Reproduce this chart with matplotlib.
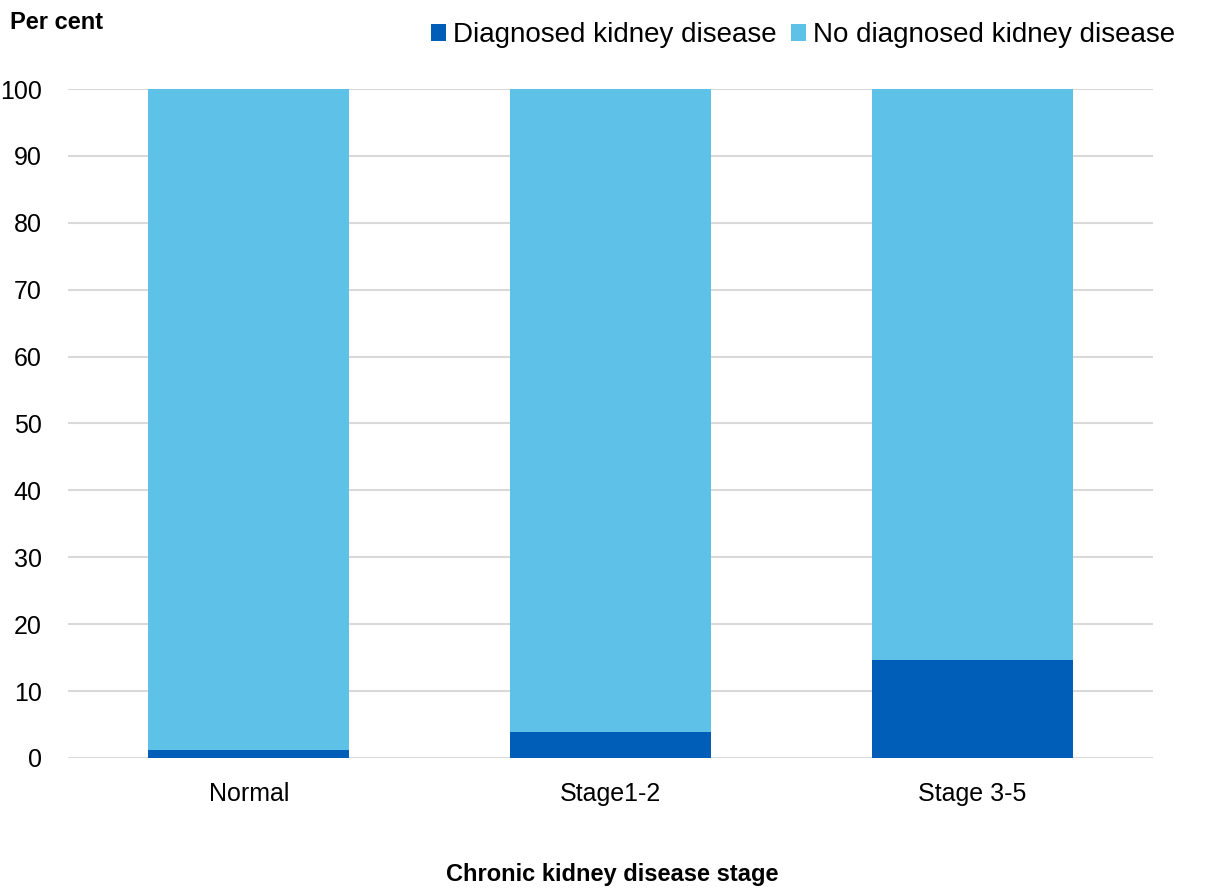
import matplotlib; matplotlib.use("Agg")
import matplotlib.pyplot as plt
import numpy as np

plt.rcParams["font.family"] = ["Liberation Sans", "DejaVu Sans"]

stages = ["Normal", "Stage1-2", "Stage 3-5"]
diagnosed = [1.2, 3.9, 14.6]
not_diagnosed = [100 - v for v in diagnosed]
DARK, LIGHT = "#005EB8", "#5EC1E8"

fig = plt.figure(figsize=(12.17, 8.91), dpi=100)
ax = fig.add_axes([0.0559, 0.1493, 0.8915, 0.7508])
x = np.arange(len(stages))
ax.bar(x, diagnosed, width=0.555, color=DARK, label="Diagnosed kidney disease", zorder=3)
ax.bar(x, not_diagnosed, width=0.555, bottom=diagnosed, color=LIGHT,
       label="No diagnosed kidney disease", zorder=3)

ax.set_xlim(-0.5, 2.5); ax.set_ylim(0, 100)
ax.set_yticks(range(0, 101, 10))
ax.set_xticks(x, stages)
ax.grid(axis="y", color="#d9d9d9", lw=1.5, zorder=0)
for s in ax.spines.values(): s.set_visible(False)
ax.tick_params(length=0, labelsize=18, colors="black")
ax.tick_params(axis="x", pad=17)
ax.tick_params(axis="y", pad=19)

fig.text(0.008, 0.975, "Per cent", fontsize=17, fontweight="bold", va="center", ha="left")
fig.text(0.503, 0.018, "Chronic kidney disease stage", fontsize=17, fontweight="bold",
         ha="center", va="center")
ax.legend(loc="center right", bbox_to_anchor=(1.0 + 33/1085, 1.0 + 54/669), ncol=2, frameon=False,
          fontsize=20, handlelength=0.55, handleheight=0.55, handletextpad=0.25,
          columnspacing=0.5, borderaxespad=0)
fig.savefig("out.png", facecolor="white")
